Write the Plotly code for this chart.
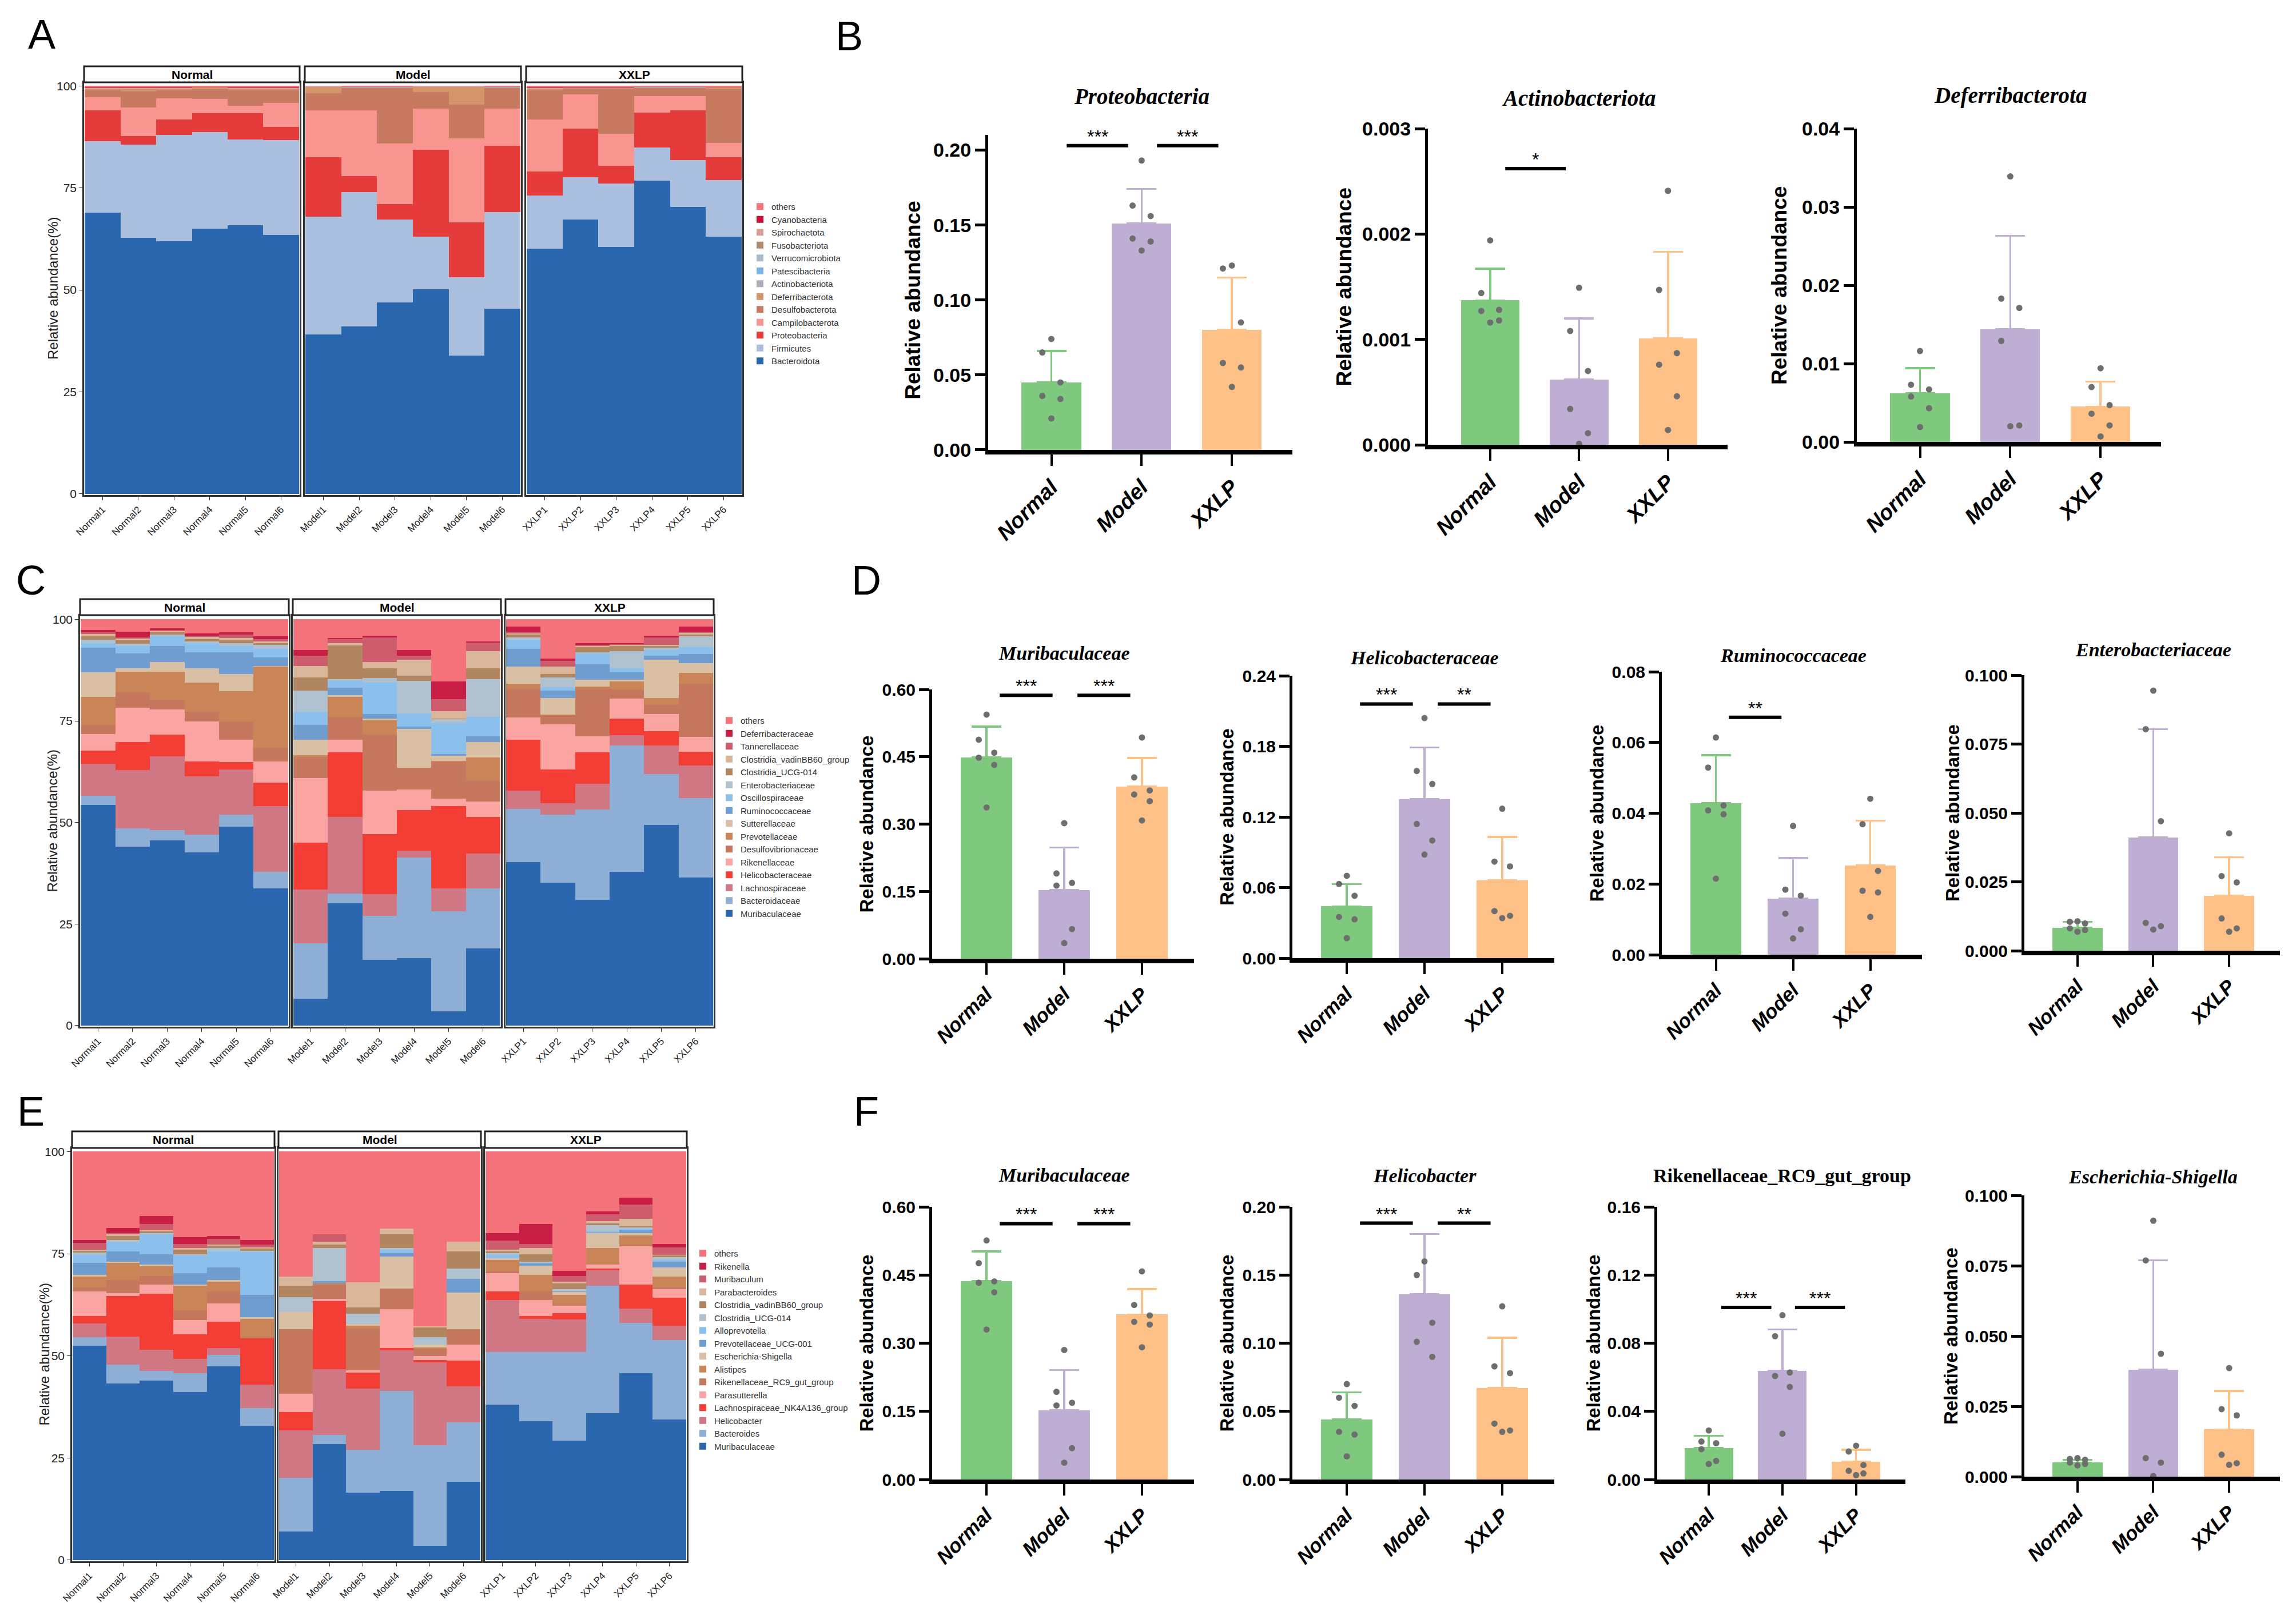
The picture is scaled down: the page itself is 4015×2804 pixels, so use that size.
import numpy as np
import plotly.graph_objects as go

# ------------------------------------------------------------------ data
GROUPS = ["Normal", "Model", "XXLP"]
SAMPLES = [
    ["Normal1", "Normal2", "Normal3", "Normal4", "Normal5", "Normal6"],
    ["Model1", "Model2", "Model3", "Model4", "Model5", "Model6"],
    ["XXLP1", "XXLP2", "XXLP3", "XXLP4", "XXLP5", "XXLP6"],
]
STACK_TICKS = [0, 25, 50, 75, 100]

# Stacked panels: upper edge (%) of each taxon band per sample, bottom band first.
# 18 values = Normal1-6, Model1-6, XXLP1-6

# Panel A - phylum
phy_taxa = ["Bacteroidota", "Firmicutes", "Proteobacteria", "Campilobacterota",
            "Desulfobacterota", "Deferribacterota", "Actinobacteriota", "Patescibacteria",
            "Verrucomicrobiota", "Fusobacteriota", "Spirochaetota", "Cyanobacteria", "others"]
phy_colors = ["#2B67AF", "#A9BFDD", "#E63B3B", "#F99590", "#C77A5F", "#D4956A", "#A7B0BA",
              "#7FB2E5", "#A9BCCB", "#B08A6A", "#D9A09A", "#C8102E", "#F4737A"]
phy_bacteroidota = [69.0, 62.8, 62.0, 65.0, 65.9, 63.5, 39.1, 41.0, 46.9, 50.2, 33.9, 45.4, 60.1, 67.3, 60.5, 76.8, 70.3, 63.1]
phy_firmicutes = [86.5, 85.6, 88.0, 88.7, 86.9, 86.7, 67.9, 74.0, 67.3, 63.1, 53.1, 69.1, 73.2, 77.6, 76.1, 84.9, 81.8, 76.9]
phy_proteobacteria = [94.0, 87.7, 91.8, 93.3, 93.3, 89.9, 82.5, 77.9, 71.1, 84.3, 66.5, 85.3, 79.0, 89.5, 80.4, 93.5, 94.1, 82.6]
phy_campilobacterota = [97.3, 94.8, 97.0, 96.8, 95.2, 95.8, 94.0, 94.0, 85.9, 94.4, 87.1, 94.4, 91.8, 98.0, 88.3, 97.6, 97.6, 86.1]
phy_desulfobacterota = [99.0, 98.6, 99.0, 99.2, 99.0, 99.0, 98.2, 99.6, 99.6, 98.5, 95.4, 99.6, 99.0, 99.4, 99.4, 99.6, 99.6, 99.2]
phy_deferribacterota = [99.4, 99.4, 99.4, 99.5, 99.4, 99.4, 99.8, 99.7, 99.7, 99.8, 99.8, 99.7, 99.4, 99.6, 99.6, 99.7, 99.7, 99.5]
phy_actinobacteriota = [99.45, 99.45, 99.45, 99.55, 99.45, 99.45, 99.85, 99.75, 99.75, 99.85, 99.85, 99.75, 99.45, 99.65, 99.65, 99.75, 99.75, 99.55]
phy_patescibacteria = [99.48, 99.48, 99.48, 99.58, 99.48, 99.48, 99.88, 99.78, 99.78, 99.88, 99.88, 99.78, 99.48, 99.68, 99.68, 99.78, 99.78, 99.58]
phy_verrucomicrobiota = [99.52, 99.52, 99.52, 99.62, 99.52, 99.52, 99.92, 99.82, 99.82, 99.92, 99.92, 99.82, 99.52, 99.72, 99.72, 99.82, 99.82, 99.62]
phy_fusobacteriota = [99.54, 99.54, 99.54, 99.64, 99.54, 99.54, 99.94, 99.84, 99.84, 99.94, 99.94, 99.84, 99.54, 99.74, 99.74, 99.84, 99.84, 99.64]
phy_spirochaetota = [99.56, 99.56, 99.56, 99.66, 99.56, 99.56, 99.96, 99.86, 99.86, 99.96, 99.96, 99.86, 99.56, 99.76, 99.76, 99.86, 99.86, 99.66]
phy_cyanobacteria = [99.58, 99.58, 99.58, 99.68, 99.58, 99.58, 99.98, 99.88, 99.88, 99.98, 99.98, 99.88, 99.58, 99.78, 99.78, 99.88, 99.88, 99.68]
phy_others = [100] * 18

# Panel C - family
fam_taxa = ["Muribaculaceae", "Bacteroidaceae", "Lachnospiraceae", "Helicobacteraceae",
            "Rikenellaceae", "Desulfovibrionaceae", "Prevotellaceae", "Sutterellaceae",
            "Ruminococcaceae", "Oscillospiraceae", "Enterobacteriaceae", "Clostridia_UCG-014",
            "Clostridia_vadinBB60_group", "Tannerellaceae", "Deferribacteraceae", "others"]
lvl_colors = ["#2B67AF", "#8EAED6", "#D07784", "#F23E35", "#FBA5A2", "#C6785F", "#C98458",
              "#D9BFA3", "#6F9DD0", "#8CC0EC", "#AFC0CF", "#B0855F", "#D9B59A", "#CD5C6C",
              "#C81D45", "#F4727A"]
fam_muribaculaceae = [54.3, 44.0, 45.6, 42.6, 49.0, 33.7, 6.6, 30.1, 16.1, 16.6, 3.5, 19.0, 40.3, 35.1, 31.0, 37.9, 49.4, 36.5]
fam_bacteroidaceae = [56.6, 48.5, 48.1, 47.0, 51.9, 37.9, 20.2, 32.5, 27.0, 41.4, 28.1, 33.7, 53.3, 51.9, 53.2, 69.0, 61.9, 56.0]
fam_lachnospiraceae = [64.4, 62.9, 66.3, 61.3, 63.1, 54.0, 33.5, 51.3, 32.3, 43.0, 33.7, 42.4, 57.9, 54.7, 59.5, 71.5, 69.0, 64.0]
fam_helicobacteraceae = [67.7, 69.8, 71.6, 65.0, 64.8, 59.8, 45.0, 67.2, 47.2, 53.1, 54.0, 51.3, 70.4, 63.1, 67.3, 75.6, 72.4, 67.4]
fam_rikenellaceae = [71.8, 78.2, 77.8, 74.8, 70.4, 65.0, 60.9, 70.4, 57.9, 58.1, 55.9, 55.1, 75.8, 74.2, 71.2, 80.5, 76.7, 71.0]
fam_desulfovibrionaceae = [74.0, 82.1, 80.2, 77.3, 74.8, 68.4, 66.0, 76.0, 71.6, 63.4, 64.8, 60.3, 82.9, 76.5, 82.9, 82.7, 79.0, 84.1]
fam_prevotellaceae = [80.9, 87.1, 87.1, 84.5, 82.3, 88.4, 66.5, 80.9, 75.2, 63.5, 65.2, 66.0, 84.1, 76.6, 83.5, 84.7, 80.6, 86.8]
fam_sutterellaceae = [86.9, 87.9, 89.5, 87.9, 86.5, 88.5, 70.4, 81.3, 75.6, 73.1, 66.4, 69.8, 88.4, 80.6, 85.2, 85.2, 90.0, 89.2]
fam_ruminococcaceae = [93.0, 91.6, 93.5, 91.9, 91.9, 90.6, 74.0, 83.1, 76.7, 73.6, 66.9, 71.2, 92.7, 82.5, 89.0, 86.9, 91.1, 91.5]
fam_oscillospiraceae = [94.2, 93.4, 95.8, 94.2, 93.4, 92.7, 77.3, 84.9, 84.5, 76.9, 74.4, 76.0, 95.0, 83.3, 91.6, 87.9, 92.4, 93.1]
fam_enterobacteriaceae = [95.0, 94.0, 96.2, 94.6, 94.2, 93.7, 82.5, 85.3, 85.5, 84.9, 75.5, 85.3, 95.6, 85.7, 91.9, 92.2, 93.0, 95.8]
fam_ucg014 = [95.8, 94.8, 96.8, 95.2, 94.8, 94.2, 85.7, 93.6, 87.9, 86.1, 75.6, 87.9, 96.2, 86.5, 93.2, 93.5, 93.5, 96.2]
fam_vadinbb60 = [96.4, 95.4, 97.2, 95.8, 95.4, 94.6, 88.5, 94.2, 89.5, 90.0, 77.4, 92.2, 96.6, 88.4, 93.5, 93.8, 93.7, 96.8]
fam_tannerellaceae = [96.8, 95.6, 97.4, 96.0, 96.2, 95.2, 91.0, 95.2, 95.6, 91.1, 80.3, 94.4, 97.0, 89.8, 93.7, 94.0, 95.6, 97.0]
fam_deferribacteraceae = [97.4, 96.9, 97.8, 96.5, 96.8, 95.8, 92.4, 95.4, 96.0, 92.4, 84.7, 94.6, 98.2, 90.4, 94.2, 94.2, 96.0, 98.2]
fam_others = [100] * 18

# Panel E - genus
gen_taxa = ["Muribaculaceae", "Bacteroides", "Helicobacter", "Lachnospiraceae_NK4A136_group",
            "Parasutterella", "Rikenellaceae_RC9_gut_group", "Alistipes", "Escherichia-Shigella",
            "Prevotellaceae_UCG-001", "Alloprevotella", "Clostridia_UCG-014",
            "Clostridia_vadinBB60_group", "Parabacteroides", "Muribaculum", "Rikenella", "others"]
gen_muribaculaceae = [52.5, 43.3, 44.0, 41.2, 47.4, 32.9, 7.0, 28.4, 16.5, 16.9, 3.5, 19.1, 38.1, 34.0, 29.2, 36.0, 45.7, 34.4]
gen_bacteroides = [54.6, 47.9, 46.3, 45.7, 50.2, 37.2, 20.2, 30.7, 27.0, 41.4, 28.1, 33.7, 51.0, 50.9, 51.0, 67.2, 58.1, 53.9]
gen_helicobacter = [57.9, 54.7, 51.5, 49.2, 51.9, 43.0, 31.7, 46.7, 42.0, 51.4, 48.4, 42.6, 63.6, 59.1, 58.9, 70.9, 61.6, 57.4]
gen_nk4a136 = [59.8, 64.6, 65.2, 55.3, 58.4, 54.3, 36.3, 63.4, 45.9, 51.9, 49.0, 48.8, 65.8, 59.7, 60.5, 71.4, 67.5, 64.2]
gen_parasutterella = [65.7, 65.4, 67.5, 58.7, 62.8, 54.3, 40.7, 64.0, 46.5, 61.4, 50.0, 52.7, 70.2, 63.6, 62.4, 72.3, 76.8, 66.3]
gen_rc9 = [66.7, 68.6, 69.6, 61.2, 65.7, 54.6, 56.5, 67.5, 56.6, 66.5, 51.7, 56.2, 70.6, 65.7, 62.6, 72.3, 77.2, 66.7]
gen_alistipes = [69.4, 72.7, 71.9, 67.2, 68.1, 59.1, 56.5, 67.7, 57.3, 66.5, 52.1, 56.5, 73.5, 69.8, 64.9, 76.4, 79.5, 69.4]
gen_escherichia = [69.8, 73.1, 72.3, 67.5, 68.6, 59.4, 60.7, 67.7, 57.8, 74.3, 52.7, 65.5, 73.9, 72.1, 65.7, 80.1, 80.1, 71.6]
gen_prevucg001 = [72.7, 75.6, 74.9, 70.2, 71.7, 64.9, 60.7, 68.3, 57.8, 75.1, 52.7, 68.8, 73.9, 72.7, 65.8, 80.3, 80.7, 73.1]
gen_alloprevotella = [74.7, 77.8, 79.7, 74.6, 75.6, 75.4, 60.7, 68.3, 57.8, 76.0, 52.7, 68.8, 74.7, 72.9, 65.8, 80.5, 81.1, 73.5]
gen_ucg014 = [75.3, 78.4, 80.1, 74.9, 76.4, 75.7, 64.4, 76.4, 60.3, 76.4, 54.6, 71.4, 75.1, 73.1, 66.3, 82.0, 81.5, 74.1]
gen_vadinbb60 = [75.7, 79.3, 80.5, 76.0, 77.0, 76.4, 67.2, 77.2, 61.9, 79.8, 57.0, 75.6, 75.6, 74.9, 67.7, 82.4, 81.7, 74.6]
gen_parabacteroides = [76.0, 79.7, 80.7, 76.4, 77.2, 76.6, 69.4, 78.0, 68.0, 81.1, 57.2, 77.9, 76.0, 76.4, 68.1, 83.0, 83.6, 74.7]
gen_muribaculum = [77.6, 80.1, 82.3, 77.4, 78.7, 77.2, 69.4, 79.8, 68.0, 81.1, 57.2, 77.9, 78.2, 77.4, 69.5, 84.6, 87.1, 76.5]
gen_rikenella = [78.4, 81.3, 84.2, 79.0, 79.3, 78.4, 69.4, 79.8, 68.0, 81.1, 57.2, 77.9, 80.1, 82.3, 70.8, 85.3, 88.7, 77.4]
gen_others = [100] * 18

# Bar panels: group means, SD (upper whisker) and individual samples
b_proteo_mean = [0.045, 0.151, 0.080]
b_proteo_sd = [0.021, 0.023, 0.035]
b_proteo_pts = [[0.074, 0.065, 0.045, 0.036, 0.034, 0.021],
                [0.193, 0.163, 0.156, 0.141, 0.139, 0.133],
                [0.123, 0.121, 0.085, 0.058, 0.055, 0.042]]
b_actino_mean = [0.00137, 0.00062, 0.00101]
b_actino_sd = [0.00030, 0.00058, 0.00082]
b_actino_pts = [[0.00194, 0.00144, 0.00128, 0.00127, 0.00118, 0.00116],
                [0.00149, 0.00108, 0.00070, 0.00034, 0.00011, 0.00001],
                [0.00241, 0.00147, 0.00087, 0.00076, 0.00046, 0.00014]]
b_deferri_mean = [0.0062, 0.0144, 0.0045]
b_deferri_sd = [0.0032, 0.0119, 0.0032]
b_deferri_pts = [[0.0116, 0.0073, 0.0067, 0.0058, 0.0043, 0.0019],
                 [0.0339, 0.0183, 0.0171, 0.0129, 0.0021, 0.0020],
                 [0.0094, 0.0070, 0.0047, 0.0036, 0.0021, 0.0007]]

d_muri_mean = [0.449, 0.153, 0.384]
d_muri_sd = [0.068, 0.095, 0.063]
d_muri_pts = [[0.544, 0.488, 0.459, 0.448, 0.432, 0.337],
              [0.302, 0.190, 0.169, 0.163, 0.066, 0.035],
              [0.493, 0.404, 0.375, 0.366, 0.351, 0.308]]
d_helico_mean = [0.044, 0.135, 0.066]
d_helico_sd = [0.019, 0.044, 0.037]
d_helico_pts = [[0.070, 0.063, 0.053, 0.035, 0.033, 0.017],
                [0.204, 0.159, 0.148, 0.114, 0.100, 0.088],
                [0.127, 0.082, 0.078, 0.040, 0.036, 0.034]]
d_rumino_mean = [0.0429, 0.0158, 0.0252]
d_rumino_sd = [0.0135, 0.0115, 0.0127]
d_rumino_pts = [[0.0614, 0.0529, 0.0422, 0.0408, 0.0397, 0.0215],
                [0.0364, 0.0184, 0.0167, 0.0116, 0.0072, 0.0046],
                [0.0441, 0.0369, 0.0237, 0.0181, 0.0176, 0.0107]]
d_entero_mean = [0.0083, 0.0411, 0.0200]
d_entero_sd = [0.0022, 0.0393, 0.0139]
d_entero_pts = [[0.0107, 0.0105, 0.0099, 0.0081, 0.0075, 0.0069],
                [0.0944, 0.0804, 0.0470, 0.0101, 0.0089, 0.0077],
                [0.0426, 0.0271, 0.0248, 0.0117, 0.0081, 0.0069]]

f_muri_mean = [0.437, 0.152, 0.363]
f_muri_sd = [0.065, 0.089, 0.056]
f_muri_pts = [[0.526, 0.476, 0.436, 0.433, 0.412, 0.330],
              [0.285, 0.193, 0.169, 0.163, 0.069, 0.037],
              [0.458, 0.384, 0.361, 0.347, 0.341, 0.291]]
f_helico_mean = [0.044, 0.136, 0.067]
f_helico_sd = [0.020, 0.044, 0.037]
f_helico_pts = [[0.070, 0.060, 0.054, 0.035, 0.033, 0.017],
                [0.160, 0.150, 0.115, 0.101, 0.090],
                [0.127, 0.083, 0.078, 0.041, 0.036, 0.035]]
f_rc9_mean = [0.0184, 0.0638, 0.0105]
f_rc9_sd = [0.0073, 0.0243, 0.0069]
f_rc9_pts = [[0.0288, 0.0223, 0.0213, 0.0178, 0.0109, 0.0091],
             [0.0964, 0.0841, 0.0628, 0.0608, 0.0543, 0.0269],
             [0.0198, 0.0164, 0.0085, 0.0051, 0.0036, 0.0026]]
f_esch_mean = [0.0050, 0.0380, 0.0168]
f_esch_sd = [0.0010, 0.0389, 0.0137]
f_esch_pts = [[0.0066, 0.0063, 0.0060, 0.0050, 0.0045, 0.0040],
              [0.0910, 0.0769, 0.0437, 0.0066, 0.0050, 0.0002],
              [0.0386, 0.0240, 0.0218, 0.0078, 0.0048, 0.0042]]

# ------------------------------------------------------------------ style
W, H = 4015, 2804
SANS = "Liberation Sans, Arial, Helvetica, sans-serif"
SERIF = "Liberation Serif, Times New Roman, serif"
GROUP_COLORS = ["#7FC97F", "#BEAED4", "#FDC086"]
DOT_COLOR = "#6E6E6E"
JITTER = [0.0, -0.1, 0.1, -0.1, 0.1, 0.0]
BIG = dict(tick=34, ytitle=37, xtick=38, title=39)     # row B
SMALL = dict(tick=30, ytitle=33, xtick=35, title=34)   # rows D and F


def px(x):
    return x / W


def py(y):
    return 1 - y / H


fig = go.Figure()
lay = {}
shapes = []
annots = []
n_ax = 0


def note(**kw):
    # annotations are always centred on the given point
    kw.setdefault("xanchor", "center")
    kw.setdefault("yanchor", "middle")
    kw.setdefault("showarrow", False)
    annots.append(kw)


def add_axes(x0, x1, ytop, ybot):
    global n_ax
    n_ax += 1
    s = "" if n_ax == 1 else str(n_ax)
    lay["xaxis" + s] = dict(domain=[px(x0), px(x1)], anchor="y" + s, automargin=False)
    lay["yaxis" + s] = dict(domain=[py(ybot), py(ytop)], anchor="x" + s, automargin=False)
    return "x" + s, "y" + s, s


def stacked_panel(tops, taxa, colors, facets, strip, panel, legend_id, legend_xy, ytitle_x):
    tops = np.array(tops, dtype=float)
    heights = np.diff(np.vstack([np.zeros(tops.shape[1]), tops]), axis=0)
    for g, (x0, x1) in enumerate(facets):
        xa, ya, s = add_axes(x0, x1, panel[0], panel[1])
        for k, name in enumerate(taxa):
            fig.add_trace(go.Bar(
                x=SAMPLES[g], y=heights[k, 6 * g:6 * g + 6], name=name,
                marker=dict(color=colors[k], line=dict(width=0)),
                legend=legend_id, legendgroup=legend_id + name, showlegend=(g == 0),
                xaxis=xa, yaxis=ya))
        lay["xaxis" + s].update(
            type="category", range=[-0.52, 5.52], showline=True, mirror=True,
            linecolor="#333333", linewidth=2.5, ticks="outside", ticklen=6, tickcolor="#333333",
            tickangle=-45, tickfont=dict(family=SANS, size=17, color="#222222"), showgrid=False)
        lay["yaxis" + s].update(
            range=[-0.3, 100.9], showline=True, mirror=True, linecolor="#333333", linewidth=2.5,
            showgrid=False, zeroline=False, tickvals=STACK_TICKS,
            ticks="outside" if g == 0 else "", ticklen=6, tickcolor="#333333",
            showticklabels=(g == 0), tickfont=dict(family=SANS, size=21, color="#222222"))
        shapes.append(dict(type="rect", xref="paper", yref="paper",
                           x0=px(x0), x1=px(x1), y0=py(strip[1]), y1=py(strip[0]),
                           fillcolor="white", line=dict(color="#222222", width=3)))
        note(text="<b>%s</b>" % GROUPS[g], x=px((x0 + x1) / 2), y=py((strip[0] + strip[1]) / 2),
             xref="paper", yref="paper", font=dict(family=SANS, size=21, color="black"))
    note(text="Relative abundance(%)", x=px(ytitle_x), y=py((panel[0] + panel[1]) / 2),
         xref="paper", yref="paper", textangle=-90,
         font=dict(family=SANS, size=24, color="#222222"))
    lay[legend_id] = dict(x=px(legend_xy[0]), y=py(legend_xy[1]), xanchor="left", yanchor="top",
                          traceorder="reversed", bgcolor="rgba(0,0,0,0)", tracegroupgap=0,
                          font=dict(family=SANS, size=15, color="#333333"), itemwidth=30)


def bar_panel(title, italic, means, sds, pts, x0, x1, y0, ytop, ymax, rng_top, dtick, fmt,
              title_y, ytitle_x, sig, sz):
    dom_top = y0 - (rng_top / ymax) * (y0 - ytop)
    xa, ya, s = add_axes(x0, x1, dom_top, y0)
    for g in range(3):
        fig.add_trace(go.Bar(
            x=[g], y=[means[g]], width=0.66, showlegend=False,
            marker=dict(color=GROUP_COLORS[g], line=dict(width=0)),
            error_y=dict(type="data", symmetric=False, array=[sds[g]], arrayminus=[0],
                         color=GROUP_COLORS[g], thickness=3.5, width=26),
            xaxis=xa, yaxis=ya))
        fig.add_trace(go.Scatter(
            x=g + np.array(JITTER[:len(pts[g])]), y=pts[g], mode="markers",
            marker=dict(size=11, color=DOT_COLOR), cliponaxis=False, showlegend=False,
            xaxis=xa, yaxis=ya))
    lay["xaxis" + s].update(
        range=[-0.7, 2.67], tickvals=[0, 1, 2], ticktext=GROUPS, showline=True,
        linecolor="black", linewidth=8, ticks="outside", ticklen=20, tickwidth=4,
        tickcolor="black", tickangle=-45, showgrid=False, zeroline=False,
        tickfont=dict(family=SANS, size=sz["xtick"], color="black", weight="bold", style="italic"))
    lay["yaxis" + s].update(
        range=[0, rng_top], tick0=0, dtick=dtick, tickformat=fmt, showline=True,
        linecolor="black", linewidth=5, ticks="outside", ticklen=18, tickwidth=4.5,
        tickcolor="black", showgrid=False, zeroline=False,
        tickfont=dict(family=SANS, size=sz["tick"], color="black", weight="bold"))
    t = "<b><i>%s</i></b>" % title if italic else "<b>%s</b>" % title
    note(text=t, x=1, xref=xa, y=py(title_y), yref="paper",
         font=dict(family=SERIF, size=sz["title"], color="black"))
    note(text="<b>Relative abundance</b>", x=px(ytitle_x), y=py((y0 + ytop) / 2),
         xref="paper", yref="paper", textangle=-90,
         font=dict(family=SANS, size=sz["ytitle"], color="black"))
    for i, j, lab, yv in sig:
        shapes.append(dict(type="line", xref=xa, yref=ya, x0=i + 0.17, x1=j - 0.15,
                           y0=yv, y1=yv, line=dict(color="black", width=6)))
        note(text=lab, x=(i + j) / 2 + 0.01, y=yv, xref=xa, yref=ya,
             yanchor="bottom", yshift=-4, font=dict(family=SANS, size=32, color="black"))


# ------------------------------------------------------------------ panels A, C, E
stacked_panel([phy_bacteroidota, phy_firmicutes, phy_proteobacteria, phy_campilobacterota,
               phy_desulfobacterota, phy_deferribacterota, phy_actinobacteriota,
               phy_patescibacteria, phy_verrucomicrobiota, phy_fusobacteriota,
               phy_spirochaetota, phy_cyanobacteria, phy_others],
              phy_taxa, phy_colors, [(139, 516), (525, 903), (912, 1290)],
              (108, 136), (136, 858), "legend", (1301, 337), 85)
stacked_panel([fam_muribaculaceae, fam_bacteroidaceae, fam_lachnospiraceae, fam_helicobacteraceae,
               fam_rikenellaceae, fam_desulfovibrionaceae, fam_prevotellaceae, fam_sutterellaceae,
               fam_ruminococcaceae, fam_oscillospiraceae, fam_enterobacteriaceae, fam_ucg014,
               fam_vadinbb60, fam_tannerellaceae, fam_deferribacteraceae, fam_others],
              fam_taxa, lvl_colors, [(132, 497), (504, 868), (876, 1240)],
              (1040, 1068), (1069, 1788), "legend2", (1247, 1236), 83)
stacked_panel([gen_muribaculaceae, gen_bacteroides, gen_helicobacter, gen_nk4a136,
               gen_parasutterella, gen_rc9, gen_alistipes, gen_escherichia, gen_prevucg001,
               gen_alloprevotella, gen_ucg014, gen_vadinbb60, gen_parabacteroides,
               gen_muribaculum, gen_rikenella, gen_others],
              gen_taxa, lvl_colors, [(118, 472), (479, 833), (840, 1193)],
              (1971, 2000), (2000, 2723), "legend3", (1201, 2168), 69)

# ------------------------------------------------------------------ panels B, D, F
bar_panel("Proteobacteria", True, b_proteo_mean, b_proteo_sd, b_proteo_pts,
          1720, 2252, 779, 254.5, 0.20, 0.21, 0.05, ".2f", 160, 1589,
          [(0, 1, "***", 0.203), (1, 2, "***", 0.203)], BIG)
bar_panel("Actinobacteriota", True, b_actino_mean, b_actino_sd, b_actino_pts,
          2489, 3013, 770, 217, 0.003, 0.003, 0.001, ".3f", 164, 2342,
          [(0, 1, "*", 0.00262)], BIG)
bar_panel("Deferribacterota", True, b_deferri_mean, b_deferri_sd, b_deferri_pts,
          3239, 3771, 765, 217, 0.04, 0.04, 0.01, ".2f", 159, 3103, [], BIG)

bar_panel("Muribaculaceae", True, d_muri_mean, d_muri_sd, d_muri_pts,
          1622, 2080, 1669, 1198, 0.60, 0.60, 0.15, ".2f", 1135, 1507,
          [(0, 1, "***", 0.587), (1, 2, "***", 0.587)], SMALL)
bar_panel("Helicobacteraceae", True, d_helico_mean, d_helico_sd, d_helico_pts,
          2252, 2710, 1668, 1174, 0.24, 0.24, 0.06, ".2f", 1142, 2137,
          [(0, 1, "***", 0.216), (1, 2, "**", 0.216)], SMALL)
bar_panel("Ruminococcaceae", True, d_rumino_mean, d_rumino_sd, d_rumino_pts,
          2898, 3353, 1662, 1167, 0.08, 0.08, 0.02, ".2f", 1138, 2784,
          [(0, 1, "**", 0.0671)], SMALL)
bar_panel("Enterobacteriaceae", True, d_entero_mean, d_entero_sd, d_entero_pts,
          3532, 3979, 1655, 1173, 0.100, 0.100, 0.025, ".3f", 1128, 3406, [], SMALL)

bar_panel("Muribaculaceae", True, f_muri_mean, f_muri_sd, f_muri_pts,
          1622, 2080, 2580, 2103, 0.60, 0.60, 0.15, ".2f", 2047, 1507,
          [(0, 1, "***", 0.563), (1, 2, "***", 0.563)], SMALL)
bar_panel("Helicobacter", True, f_helico_mean, f_helico_sd, f_helico_pts,
          2252, 2710, 2580, 2103, 0.20, 0.20, 0.05, ".2f", 2048, 2137,
          [(0, 1, "***", 0.188), (1, 2, "**", 0.188)], SMALL)
bar_panel("Rikenellaceae_RC9_gut_group", False, f_rc9_mean, f_rc9_sd, f_rc9_pts,
          2890, 3324, 2580, 2103, 0.16, 0.16, 0.04, ".2f", 2048, 2778,
          [(0, 1, "***", 0.101), (1, 2, "***", 0.101)], SMALL)
bar_panel("Escherichia-Shigella", True, f_esch_mean, f_esch_sd, f_esch_pts,
          3532, 3979, 2575, 2083, 0.100, 0.100, 0.025, ".3f", 2050, 3403, [], SMALL)

for txt, x, y in [("A", 65, 52), ("B", 1477, 55), ("C", 46, 1007),
                  ("D", 1507, 1007), ("E", 46, 1936), ("F", 1507, 1936)]:
    note(text=txt, x=px(x), y=py(y), xref="paper", yref="paper",
         font=dict(family=SANS, size=72, color="black"))

fig.update_layout(
    width=W, height=H, margin=dict(l=0, r=0, t=0, b=0, autoexpand=False),
    paper_bgcolor="white", plot_bgcolor="white",
    barmode="stack", bargap=0, showlegend=True,
    shapes=shapes, annotations=annots, **lay)

fig.write_html("out.html")
